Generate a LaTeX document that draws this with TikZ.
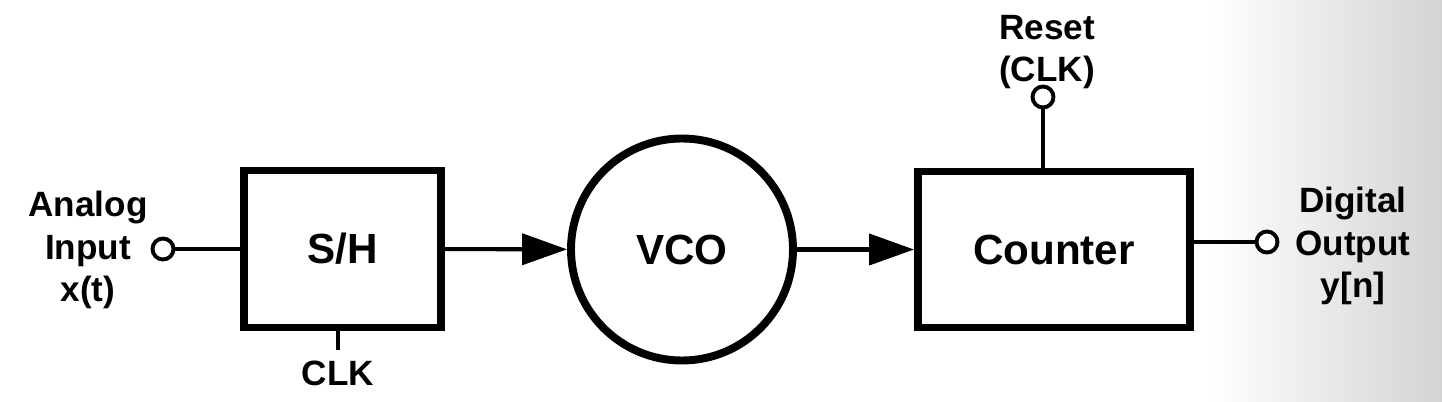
\documentclass[tikz,border=0pt]{standalone}
\usepackage{fontspec}
\setmainfont{Liberation Sans}
\usetikzlibrary{positioning, arrows.meta, calc}

\begin{document}
\begin{tikzpicture}[
    >={Triangle[length=0.9cm, width=0.62cm]},
    block/.style={rectangle, draw, line width=4.5pt, inner sep=0pt, font=\bfseries\fontsize{24}{24.5}\selectfont},
    vcoblock/.style={circle, draw, line width=4.5pt, minimum size=4.44cm, inner sep=0pt, font=\bfseries\fontsize{24}{24.5}\selectfont},
    term/.style={circle, draw, line width=2.2pt, fill=white, minimum size=0.42cm, inner sep=0pt},
    wire/.style={line width=2.3pt},
    lbl/.style={align=center, inner sep=0pt, font=\bfseries\fontsize{20}{24.4}\selectfont}
]
    % page and the grey fade on the right
    \useasboundingbox (0,0) rectangle (28.84,8.02);
    \shade[left color=white, right color=black!17] (24.2,0) rectangle (28.84,8.02);

    % Blocks
    \node[block, minimum width=3.94cm, minimum height=3.14cm] (sh) at (6.85, 3.04) {S/H};
    \node[vcoblock] (vco) at (13.64, 3.03) {VCO};
    \node[block, minimum width=5.44cm, minimum height=3.12cm] (cnt) at (21.08, 3.03) {Counter};

    % Terminals
    \node[term] (xin)  at (3.26, 3.04)  {};
    \node[term] (yout) at (25.34, 3.18) {};
    \node[term] (rst)  at (20.86, 6.08) {};
    \coordinate (clk) at (6.76, 1.02);

    % Labels
    \node[lbl] (inlbl)  at (1.76, 3.02)  {Analog\\Input\\x(t)};
    \node[lbl] (outlbl) at (27.06, 3.1)  {Digital\\Output\\y[n]};
    \node[lbl] (rstlbl) at (20.94, 6.98) {Reset\\(CLK)};
    \node[lbl] (clklbl) at (6.76, 0.55)  {CLK};

    % Signal path
    \draw[wire] (xin) -- (sh);
    \draw[wire, ->] (sh) -- (vco);
    \draw[wire, ->] (vco) -- (cnt);
    \draw[wire] (cnt.east |- yout) -- (yout);

    % Clock and reset
    \draw[wire] (sh.south -| clk) -- (clk);
    \draw[wire] (cnt.north -| rst) -- (rst);
\end{tikzpicture}
\end{document}
